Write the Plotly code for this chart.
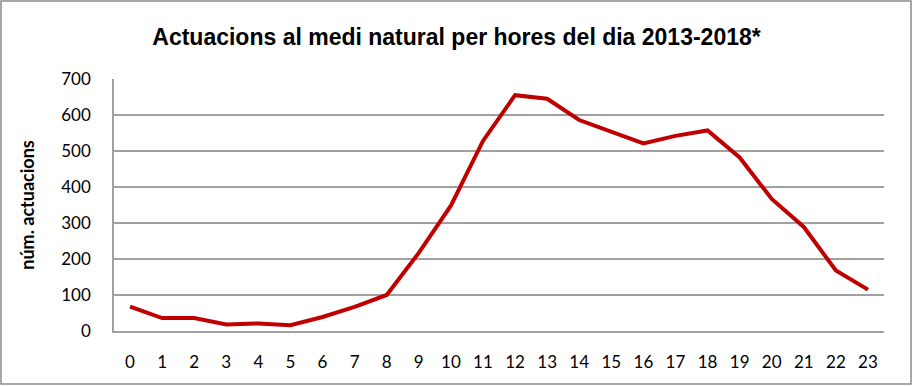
import plotly.graph_objects as go

hours = list(range(24))
hour_labels = [str(h) for h in hours]
actuacions = [68, 36, 36, 18, 21, 16, 39, 67, 100, 217, 348, 528, 655, 645,
              586, 554, 521, 542, 557, 482, 367, 289, 168, 115]
y_ticks = [0, 100, 200, 300, 400, 500, 600, 700]

W, H = 913, 386
ml, mr, mt, mb = 114, 29, 79, 55
pw, ph = W - ml - mr, H - mt - mb

fig = go.Figure()
fig.add_trace(go.Scatter(
    x=hours, y=actuacions, mode="lines",
    line=dict(color="#C00000", width=4),
    hoverinfo="x+y", showlegend=False,
))

fig.update_layout(
    width=W, height=H,
    margin=dict(l=ml, r=mr, t=mt, b=mb),
    paper_bgcolor="white", plot_bgcolor="white",
    title=dict(
        text="<b>Actuacions al medi natural per hores del dia 2013-2018*</b>",
        font=dict(family="Liberation Sans, Arial, sans-serif", size=23, color="black"),
        x=0.5, xanchor="center", y=1 - 37 / H, yanchor="middle",
    ),
    xaxis=dict(
        range=[-0.5, 23.5], tickmode="array", tickvals=hours, ticktext=hour_labels,
        showgrid=False, zeroline=False,
        showline=True, linecolor="#a0a0a0", linewidth=1.5,
        ticks="", ticklabelstandoff=15,
        tickfont=dict(family="Lato, sans-serif", size=17, color="black"),
    ),
    yaxis=dict(
        range=[0, 700], tickmode="array", tickvals=y_ticks,
        showgrid=True, gridcolor="#a0a0a0", gridwidth=1.5,
        zeroline=False,
        showline=True, linecolor="#a0a0a0", linewidth=1.5,
        ticks="", ticklabelstandoff=18,
        tickfont=dict(family="Lato, sans-serif", size=17, color="black"),
        title=dict(text="<b>núm. actuacions</b>", standoff=22,
                   font=dict(family="Lato, sans-serif", size=18, color="black")),
    ),
)

# outer chart frame
fig.add_shape(
    type="rect", xref="paper", yref="paper",
    x0=(1 - ml) / pw, x1=(W - 2 - ml) / pw,
    y0=(H - mb - (H - 2)) / ph, y1=(H - mb - 1) / ph,
    line=dict(color="#8c8c8c", width=1.5), fillcolor="rgba(0,0,0,0)",
    layer="below",
)

fig.write_html("out.html")
